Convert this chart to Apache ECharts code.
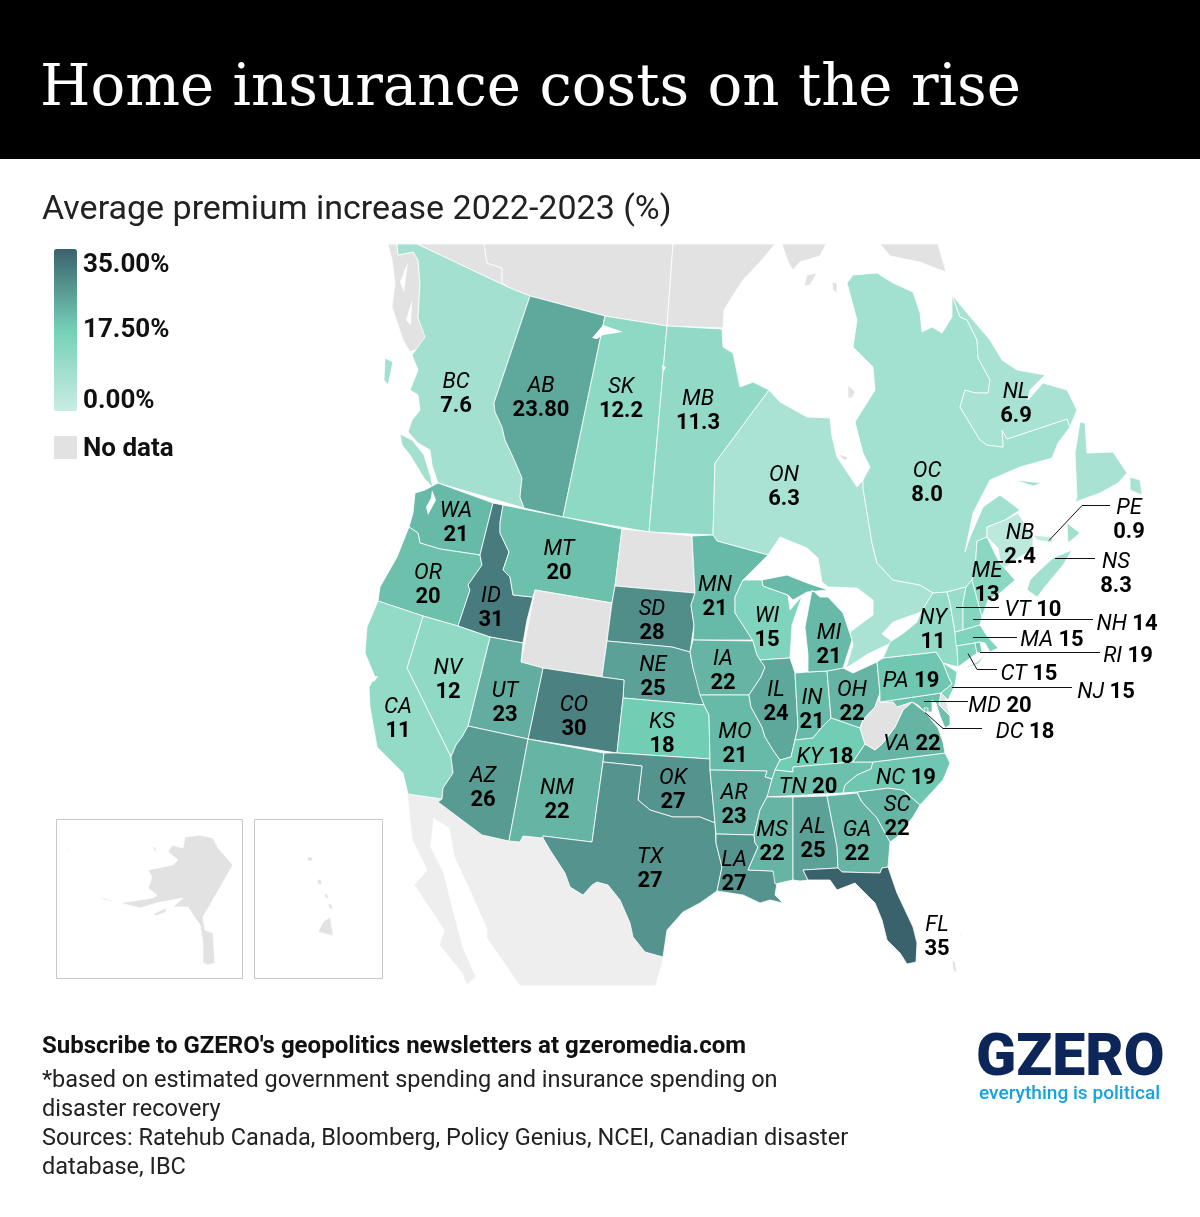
<!DOCTYPE html>
<html>
<head>
<meta charset="utf-8">
<title>Home insurance costs on the rise</title>
<script src="https://cdn.jsdelivr.net/npm/echarts@6/dist/echarts.min.js"></script>
<style>
  html, body { margin: 0; padding: 0; background: #fff; }
  #chart { width: 1200px; height: 1217px; }
</style>
</head>
<body>
<div id="chart"></div>
<script>
// values
var canadaCodes = ['BC', 'AB', 'SK', 'MB', 'ON', 'OC', 'NL', 'PE', 'NB', 'NS'];
var canadaValues = ['7.6', '23.80', '12.2', '11.3', '6.3', '8.0', '6.9', '0.9', '2.4', '8.3'];
var usCodes = ['WA', 'OR', 'ID', 'MT', 'SD', 'NE', 'CO', 'KS', 'UT', 'NV', 'CA', 'AZ', 'NM', 'OK', 'TX', 'MN', 'IA', 'MO', 'AR', 'LA', 'WI', 'IL', 'IN', 'MI', 'OH', 'KY', 'TN', 'MS', 'AL', 'GA', 'FL', 'SC', 'NC', 'VA', 'PA', 'NY', 'VT', 'NH', 'ME', 'MA', 'RI', 'CT', 'NJ', 'MD', 'DC'];
var usValues = ['21', '20', '31', '20', '28', '25', '30', '18', '23', '12', '11', '26', '22', '27', '27', '21', '22', '21', '23', '27', '15', '24', '21', '21', '22', '18', '20', '22', '25', '22', '35', '22', '19', '22', '19', '11', '10', '14', '13', '15', '19', '15', '15', '20', '18'];
var legendTicks = ['35.00%', '17.50%', '0.00%'];
var oneLineCodes = ['PA', 'KY', 'TN', 'VA', 'NC', 'VT', 'NH', 'MA', 'RI', 'CT', 'NJ', 'MD', 'DC'];

// where each label sits
var labelSpots = {
  BC: [456, 394], AB: [541, 398], SK: [621, 399], MB: [698, 411], ON: [784, 487], OC: [927, 483],
  NL: [1016, 404], PE: [1129, 520], NB: [1020, 545], NS: [1116, 574], ME: [987, 583],
  WA: [456, 523], OR: [428, 585], ID: [491, 608], MT: [559, 561], SD: [652, 621], NE: [653, 677],
  CO: [574, 717], KS: [662, 734], UT: [505, 703], NV: [448, 680], CA: [398, 719], AZ: [483, 788],
  NM: [557, 800], OK: [673, 790], TX: [650, 869], MN: [715, 597], IA: [723, 671], MO: [735, 744],
  AR: [734, 805], LA: [734, 872], WI: [767, 628], IL: [776, 702], IN: [812, 710], MI: [829, 645],
  OH: [852, 702], MS: [772, 842], AL: [813, 839], GA: [857, 842], FL: [937, 937], SC: [897, 817],
  NY: [933, 630], PA: [911, 681], KY: [825, 757], TN: [808, 787], VA: [912, 744], NC: [906, 778],
  VT: [1033, 610], NH: [1127, 624], MA: [1052, 640], RI: [1128, 656], CT: [1029, 674], NJ: [1106, 692],
  MD: [1000, 706], DC: [1025, 732]
};
var leaderLines = [
  [[1049, 540], [1082, 505], [1110, 505]],
  [[1055, 558], [1095, 558]],
  [[956, 607], [999, 607]],
  [[973, 619], [1093, 619]],
  [[973, 637], [1017, 637]],
  [[980, 652], [1100, 652]],
  [[968, 653], [977, 669], [997, 669]],
  [[952, 687], [1072, 687]],
  [[924, 701], [968, 701]],
  [[925, 712], [943, 728], [982, 728]]
];

// outlines, in page pixels
var shapes = {
  Mexico: [[[408,794],[442,799],[438,802],[482,835],[509,841],[520,842],[523,836],[543,838],[550,850],[565,873],[570,887],[583,895],[592,885],[597,882],[608,885],[620,900],[630,923],[633,937],[645,952],[663,957],[655,985],[520,985],[487,937],[488,930],[472,893],[455,857],[450,828],[433,817],[430,847],[443,873],[453,913],[462,947],[475,977],[467,984],[463,973],[440,945],[445,930],[415,885],[428,870],[413,840]]],
  Panhandle: [[[388,244],[397,244],[398,255],[413,252],[418,260],[420,283],[418,318],[427,335],[420,348],[410,352],[403,340],[392,307],[395,283],[392,260]]],
  Yukon: [[[417,244],[484,244],[487,263],[502,268],[502,283],[510,288]]],
  NWT: [[[484,244],[673,244],[667,326],[605,316],[530,296],[510,288],[502,283],[502,268],[487,263]]],
  Nunavut: [[[673,244],[775,244],[760,262],[743,280],[730,300],[724,310],[723,328],[667,326]],
    [[782,244],[826,244],[820,256],[800,262],[793,270],[788,262]],
    [[880,244],[938,244],[946,272],[935,268],[920,262],[900,258],[890,256]],
    [[807,275],[817,273],[810,285],[804,286]],
    [[832,282],[837,283],[837,293],[833,290]],
    [[848,385],[855,392],[852,398],[848,398]],
    [[838,454],[848,457],[845,461]]],
  BC: [[[397,244],[417,244],[510,288],[530,296],[494,403],[495,412],[502,427],[505,440],[513,457],[522,478],[520,497],[524,508],[438,483],[432,465],[430,450],[418,443],[408,432],[412,420],[420,410],[418,395],[410,390],[418,370],[412,355],[425,337],[418,318],[420,283],[418,260],[413,252],[398,255]],
    [[385,358],[393,362],[388,385],[384,380]],
    [[400,434],[412,440],[424,455],[431,478],[433,488],[424,478],[410,455],[402,445]]],
  AB: [[[530,296],[605,316],[563,517],[524,508],[520,497],[522,478],[513,457],[505,440],[502,427],[495,412],[494,403]]],
  SK: [[[605,316],[667,326],[649,532],[563,517]]],
  MB: [[[667,326],[722,329],[723,347],[733,353],[740,387],[753,382],[769,390],[715,463],[713,535],[649,532]]],
  ON: [[[769,390],[780,402],[807,417],[830,418],[832,437],[837,457],[857,487],[863,480],[863,488],[872,543],[877,563],[893,580],[920,585],[933,593],[921,612],[893,622],[882,634],[893,642],[868,654],[846,668],[853,645],[850,632],[873,615],[873,600],[857,588],[828,587],[822,582],[818,558],[807,548],[780,537],[768,555],[735,546],[717,541],[713,535],[715,463]]],
  OC: [[[863,488],[863,480],[870,467],[863,453],[855,422],[875,390],[873,367],[853,347],[857,320],[847,283],[853,275],[877,273],[893,283],[913,292],[920,313],[922,332],[932,327],[942,333],[952,317],[952,295],[960,317],[967,320],[977,340],[978,358],[990,380],[988,393],[975,393],[965,390],[960,407],[972,427],[980,440],[987,445],[1003,447],[1002,430],[1007,439],[1067,419],[1070,427],[1058,443],[1052,458],[1020,467],[990,480],[973,513],[965,552],[970,537],[983,507],[1000,495],[1020,510],[1005,520],[987,527],[987,537],[977,541],[975,570],[972,580],[966,587],[947,592],[933,593],[920,585],[893,580],[877,563],[872,543]],
    [[1015,480],[1042,483],[1033,486]]],
  NL: [[[952,295],[967,313],[990,340],[1002,360],[1017,370],[1045,375],[1030,390],[1028,400],[1043,383],[1067,390],[1077,410],[1070,427],[1067,419],[1007,439],[1002,430],[1003,447],[987,445],[980,440],[972,427],[960,407],[965,390],[975,393],[988,393],[990,380],[978,358],[977,340],[967,320],[960,317]],
    [[1080,422],[1075,453],[1077,497],[1075,502],[1100,493],[1118,483],[1127,473],[1113,452],[1087,453],[1085,423]],
    [[1130,477],[1140,480],[1142,495],[1130,490]]],
  NB: [[[987,527],[1005,520],[1018,513],[1033,537],[1033,550],[1018,558],[1002,570],[998,548],[987,537]]],
  PE: [[[1033,535],[1053,537],[1052,543],[1037,540]]],
  NS: [[[1072,550],[1053,558],[1040,570],[1030,580],[1027,590],[1037,597],[1048,583],[1063,565]],
    [[1067,523],[1080,533],[1068,543]]],
  WA: [[[438,483],[493,503],[480,555],[440,549],[420,543],[418,533],[409,527],[413,513],[415,493],[425,490]]],
  OR: [[[409,527],[418,533],[420,543],[440,549],[480,555],[482,565],[468,585],[470,590],[458,626],[423,616],[378,601],[380,587],[397,557]]],
  ID: [[[493,503],[503,505],[500,523],[500,533],[509,552],[503,570],[510,577],[513,595],[533,597],[527,620],[523,643],[490,637],[458,626],[470,590],[468,585],[482,565],[480,555]]],
  MT: [[[503,505],[563,517],[622,529],[615,586],[612,603],[535,590],[533,597],[513,595],[510,577],[503,570],[509,552],[500,533],[500,523]]],
  ND: [[[622,529],[692,536],[695,593],[615,586]]],
  WY: [[[535,590],[612,603],[602,677],[543,668],[521,662]]],
  SD: [[[615,586],[695,593],[691,605],[694,625],[690,652],[672,647],[607,641],[612,603]]],
  NE: [[[607,641],[672,647],[690,652],[693,668],[700,690],[704,705],[623,698],[624,680],[602,677]]],
  CO: [[[543,668],[602,677],[624,680],[623,698],[617,753],[528,739]]],
  KS: [[[623,698],[704,705],[709,715],[710,759],[617,753]]],
  UT: [[[490,637],[523,643],[521,662],[543,668],[528,739],[468,726]]],
  NV: [[[423,616],[458,626],[490,637],[468,726],[462,737],[456,745],[451,757],[407,668]]],
  CA: [[[378,601],[423,616],[407,668],[451,757],[453,773],[443,788],[442,799],[408,794],[403,773],[377,747],[370,707],[369,687],[375,677],[365,653],[367,627]]],
  AZ: [[[468,726],[528,739],[509,841],[482,835],[438,802],[442,799],[443,788],[453,773],[451,757],[456,745],[462,737]]],
  NM: [[[528,739],[604,753],[603,762],[592,842],[543,836],[543,838],[523,836],[520,842],[509,841]]],
  OK: [[[604,753],[617,753],[710,759],[710,770],[715,823],[700,817],[673,817],[650,810],[638,800],[642,766],[603,762]]],
  TX: [[[603,762],[642,766],[638,800],[650,810],[673,817],[700,817],[715,823],[716,843],[722,867],[717,891],[700,903],[683,912],[667,930],[663,957],[645,952],[633,937],[630,923],[620,900],[608,885],[597,882],[592,885],[583,895],[570,887],[565,873],[550,850],[543,838],[543,836],[592,842]]],
  MN: [[[692,536],[713,535],[717,541],[735,546],[768,555],[743,580],[735,597],[735,613],[753,640],[693,640],[694,625],[691,605],[695,593]]],
  IA: [[[693,640],[753,641],[757,655],[765,667],[761,677],[749,695],[700,695],[693,668],[690,652]]],
  MO: [[[700,695],[749,695],[751,707],[762,727],[765,737],[773,750],[780,760],[775,770],[772,779],[765,777],[767,771],[710,770],[710,759],[709,715],[704,705]]],
  AR: [[[710,770],[767,771],[765,777],[772,779],[768,795],[760,810],[754,835],[716,834],[715,823]]],
  LA: [[[716,834],[754,835],[755,843],[758,847],[748,870],[773,871],[777,883],[775,895],[783,903],[770,900],[760,903],[743,895],[717,891],[722,867],[716,843]]],
  WI: [[[743,580],[762,580],[763,586],[788,595],[790,610],[802,596],[792,625],[790,658],[760,660],[757,655],[753,641],[735,613],[735,597]]],
  IL: [[[760,660],[790,658],[795,673],[798,727],[795,740],[791,757],[780,760],[773,750],[765,737],[762,727],[751,707],[749,695],[761,677],[765,667]]],
  IN: [[[795,673],[808,672],[827,671],[831,718],[822,727],[813,738],[795,740],[798,727]]],
  OH: [[[827,671],[843,668],[853,673],[877,662],[880,693],[875,707],[863,720],[860,728],[831,718]]],
  MI: [[[812,590],[820,597],[828,597],[843,613],[852,640],[843,668],[827,671],[808,672],[808,655],[805,627]],
    [[762,580],[787,575],[807,583],[828,590],[807,592],[793,600],[788,595],[763,586]]],
  KY: [[[780,760],[791,757],[795,740],[813,738],[822,727],[831,718],[860,728],[865,744],[853,762],[793,767],[793,772],[775,770]]],
  TN: [[[775,770],[793,772],[793,767],[853,762],[873,762],[871,769],[857,775],[845,785],[843,793],[767,797],[772,779]]],
  MS: [[[767,797],[793,797],[793,880],[775,884],[773,871],[748,870],[758,847],[755,843],[754,835],[760,810]]],
  AL: [[[793,797],[827,796],[837,847],[838,868],[803,870],[808,880],[800,881],[793,880]]],
  GA: [[[827,796],[857,793],[862,802],[877,818],[890,842],[888,867],[882,868],[880,873],[842,872],[838,868],[837,847]]],
  FL: [[[803,870],[838,868],[842,872],[880,873],[882,868],[888,867],[897,893],[913,927],[917,943],[916,962],[907,964],[900,953],[887,940],[882,920],[875,903],[855,883],[837,890],[830,880],[808,880]]],
  SC: [[[857,792],[888,788],[903,790],[920,805],[913,817],[897,837],[890,842],[877,818],[862,802]]],
  NC: [[[873,762],[945,753],[950,763],[943,780],[920,805],[903,790],[888,788],[857,792],[843,793],[845,785],[857,775],[871,769]]],
  VA: [[[853,762],[873,762],[945,753],[943,742],[938,728],[925,712],[912,702],[903,710],[895,727],[883,743],[875,750],[865,744]]],
  WV: [[[880,693],[880,702],[893,702],[897,707],[912,702],[903,710],[895,727],[883,743],[875,750],[865,744],[860,728],[863,720],[875,707]]],
  MD: [[[880,702],[941,693],[939,705],[950,716],[950,725],[945,728],[940,716],[936,703],[932,700],[932,712],[925,712],[918,705],[912,702],[897,707],[893,702]]],
  DC: [[[924,708],[928,708],[928,712],[925,712]]],
  DE: [[[941,693],[945,695],[950,716],[939,705]]],
  PA: [[[877,662],[883,658],[936,652],[943,663],[949,678],[952,684],[941,693],[880,702],[880,693]]],
  NJ: [[[943,663],[957,672],[955,685],[948,700],[941,693],[952,684],[949,678]]],
  NY: [[[933,593],[947,592],[950,603],[955,632],[957,647],[958,667],[943,663],[936,652],[883,658],[890,642],[905,632],[917,622],[921,612]],
    [[960,670],[977,662],[986,654],[978,664]]],
  VT: [[[947,592],[966,587],[963,603],[963,630],[955,632],[950,603]]],
  NH: [[[966,587],[972,580],[982,617],[980,625],[963,630],[963,603]]],
  ME: [[[972,580],[975,570],[977,541],[987,537],[999,562],[1015,580],[1000,593],[988,600],[982,617]]],
  MA: [[[955,632],[963,630],[980,625],[987,636],[998,648],[990,652],[985,643],[980,642],[975,643],[956,646]]],
  CT: [[[956,646],[975,643],[977,653],[958,667],[957,647]]],
  RI: [[[975,643],[980,642],[982,652],[977,653]]],
  Alaska: [[[185,837],[200,835],[213,838],[218,848],[233,865],[203,917],[205,930],[213,933],[215,963],[208,965],[203,963],[203,943],[200,925],[193,915],[188,907],[173,907],[183,898],[172,900],[157,903],[140,908],[120,903],[153,898],[157,895],[148,888],[152,877],[148,870],[173,865],[178,860],[168,852],[172,845],[183,848]],
    [[153,914],[166,908],[166,912],[156,916]],
    [[152,846],[156,848],[156,853]],
    [[98,896],[120,903],[105,900]],
    [[86,889],[90,892],[87,891]],
    [[66,848],[68,848],[68,851]]],
  Hawaii: [[[307,857],[312,857],[313,861],[308,861]],
    [[317,879],[321,880],[322,885],[318,884]],
    [[324,893],[328,895],[329,899],[325,897]],
    [[328,903],[332,905],[333,910],[329,908]],
    [[330,917],[333,933],[333,936],[318,932],[323,922]]],
  Keys: [[[952,960],[955,962],[957,973],[953,970]], [[959,932],[961,934],[961,938]]],
  // lakes and inlets cut out of the land
  Water: [[[592,338],[603,325],[623,332],[603,335],[597,339]],
    [[662,365],[666,367],[663,372]],
    [[432,490],[436,500],[428,515],[426,507],[431,498]],
    [[371,677],[378,676],[374,682]],
    [[400,282],[408,262],[404,292]],
    [[406,320],[412,300],[411,325]]]
};
var lightRegions = ['Mexico'];
var waterRegions = ['Water'];

var features = [];
for (var code in shapes) {
  features.push({
    type: 'Feature',
    properties: { name: code },
    geometry: {
      type: 'MultiPolygon',
      coordinates: shapes[code].map(function (ring) { return [ring]; })
    }
  });
}
echarts.registerMap('northAmerica', { type: 'FeatureCollection', features: features });

var codes = canadaCodes.concat(usCodes);
var texts = canadaValues.concat(usValues);

var mapData = codes.map(function (c, i) {
  return { name: c, value: Number(texts[i]) };
});
var labelData = codes.map(function (c, i) {
  var oneLine = oneLineCodes.indexOf(c) >= 0;
  return {
    name: c,
    value: labelSpots[c],
    label: { formatter: '{n|' + c + '}' + (oneLine ? '{n| }' : '\n') + '{v|' + texts[i] + '}' }
  };
});
var regionStyles = [];
lightRegions.forEach(function (n) {
  regionStyles.push({ name: n, itemStyle: { areaColor: '#eeeeee', borderColor: '#eeeeee' } });
});
waterRegions.forEach(function (n) {
  regionStyles.push({ name: n, itemStyle: { areaColor: '#ffffff', borderWidth: 0 } });
});

function textEl(text, x, y, font, fill, align) {
  return {
    type: 'text', silent: true, z: 20,
    style: { text: text, x: x, y: y, font: font, fill: fill || '#111', textAlign: align || 'left', textVerticalAlign: 'middle' }
  };
}
var sans = 'Roboto, sans-serif';
var graphics = [
  { type: 'rect', silent: true, z: 10, shape: { x: 0, y: 0, width: 1200, height: 159 }, style: { fill: '#000' } },
  textEl('Home insurance costs on the rise', 40, 90, '57.8px "DejaVu Serif", serif', '#fff'),
  textEl('Average premium increase 2022-2023 (%)', 42, 210, '34px ' + sans, '#222'),
  textEl(legendTicks[0], 83, 265, 'bold 26px ' + sans),
  textEl(legendTicks[1], 83, 330, 'bold 26px ' + sans),
  textEl(legendTicks[2], 83, 401, 'bold 26px ' + sans),
  { type: 'rect', silent: true, z: 10, shape: { x: 54, y: 436, width: 23, height: 23 }, style: { fill: '#e2e2e2' } },
  textEl('No data', 83, 449, 'bold 26px ' + sans),
  { type: 'rect', silent: true, z: 10, shape: { x: 56.5, y: 819.5, width: 186, height: 159 }, style: { fill: 'none', stroke: '#c8c8c8', lineWidth: 1 } },
  { type: 'rect', silent: true, z: 10, shape: { x: 254.5, y: 819.5, width: 128, height: 159 }, style: { fill: 'none', stroke: '#c8c8c8', lineWidth: 1 } },
  textEl("Subscribe to GZERO's geopolitics newsletters at gzeromedia.com", 42, 1047, 'bold 24px ' + sans, '#111'),
  textEl('*based on estimated government spending and insurance spending on', 42, 1081, '23.5px ' + sans, '#222'),
  textEl('disaster recovery', 42, 1110, '23.5px ' + sans, '#222'),
  textEl('Sources: Ratehub Canada, Bloomberg, Policy Genius, NCEI, Canadian disaster', 42, 1139, '23.5px ' + sans, '#222'),
  textEl('database, IBC', 42, 1168, '23.5px ' + sans, '#222'),
  textEl('GZERO', 976, 1060, '900 59px ' + sans, '#0c2659'),
  textEl('everything is political', 979, 1094, '500 19.1px ' + sans, '#14a3e2')
];

var myChart = echarts.init(document.getElementById('chart'));
myChart.setOption({
  animation: false,
  backgroundColor: '#ffffff',
  graphic: graphics,
  visualMap: {
    type: 'continuous',
    seriesIndex: 0,
    min: 0,
    max: 35,
    left: 54,
    top: 249,
    itemWidth: 23,
    itemHeight: 162,
    calculable: false,
    hoverLink: false,
    text: ['', ''],
    showLabel: false,
    padding: 0,
    inRange: { color: ['#c9ede3', '#74d0b7', '#3a626c'] }
  },
  geo: {
    map: 'northAmerica',
    projection: {
      project: function (p) { return p; },
      unproject: function (p) { return p; }
    },
    boundingCoords: [[0, 0], [1200, 1217]],
    left: 0,
    top: 0,
    width: 1200,
    height: 1217,
    roam: false,
    silent: true,
    label: { show: false },
    itemStyle: { areaColor: '#e2e2e2', borderColor: '#ffffff', borderWidth: 0.8 },
    regions: regionStyles
  },
  series: [
    {
      type: 'map',
      geoIndex: 0,
      silent: true,
      data: mapData
    },
    {
      type: 'lines',
      coordinateSystem: 'geo',
      polyline: true,
      silent: true,
      z: 4,
      lineStyle: { color: '#111', width: 1, opacity: 1 },
      data: leaderLines.map(function (l) {
        return { coords: l.map(function (p) { return [p[0], p[1] + 0.5]; }) };
      })
    },
    {
      type: 'scatter',
      coordinateSystem: 'geo',
      silent: true,
      z: 5,
      symbolSize: 1,
      itemStyle: { color: 'rgba(0,0,0,0)', opacity: 1 },
      label: {
        show: true,
        position: 'inside',
        color: '#000',
        rich: {
          n: { fontFamily: 'Roboto', fontStyle: 'italic', fontSize: 22, lineHeight: 24, color: '#000' },
          v: { fontFamily: 'Roboto', fontWeight: 'bold', fontSize: 22, lineHeight: 24, color: '#000' }
        }
      },
      data: labelData
    }
  ]
});
</script>
</body>
</html>
